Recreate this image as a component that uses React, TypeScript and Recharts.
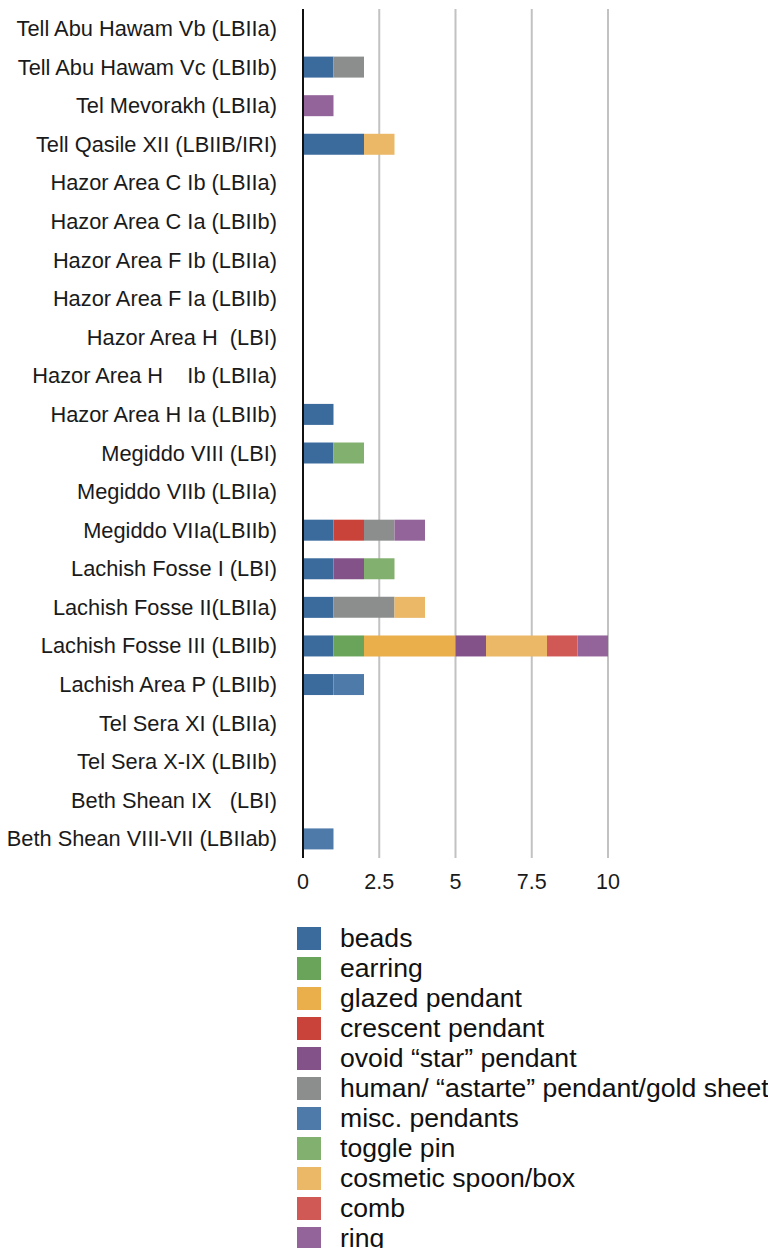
import React from 'react';
import { BarChart, Bar, XAxis, YAxis, CartesianGrid, Legend } from 'recharts';

const categories = [
  'Tell Abu Hawam Vb (LBIIa)',
  'Tell Abu Hawam Vc (LBIIb)',
  'Tel Mevorakh (LBIIa)',
  'Tell Qasile XII (LBIIB/IRI)',
  'Hazor Area C Ib (LBIIa)',
  'Hazor Area C Ia (LBIIb)',
  'Hazor Area F Ib (LBIIa)',
  'Hazor Area F Ia (LBIIb)',
  'Hazor Area H\u00a0\u00a0(LBI)',
  'Hazor Area H\u00a0\u00a0\u00a0\u00a0Ib (LBIIa)',
  'Hazor Area H Ia (LBIIb)',
  'Megiddo VIII (LBI)',
  'Megiddo VIIb (LBIIa)',
  'Megiddo VIIa(LBIIb)',
  'Lachish Fosse I (LBI)',
  'Lachish Fosse II(LBIIa)',
  'Lachish Fosse III (LBIIb)',
  'Lachish Area P (LBIIb)',
  'Tel Sera XI (LBIIa)',
  'Tel Sera X-IX (LBIIb)',
  'Beth Shean IX\u00a0\u00a0\u00a0(LBI)',
  'Beth Shean VIII-VII (LBIIab)',
];

const beads =    [0, 1, 0, 2, 0, 0, 0, 0, 0, 0, 1, 1, 0, 1, 1, 1, 1, 1, 0, 0, 0, 0];
const earring =  [0, 0, 0, 0, 0, 0, 0, 0, 0, 0, 0, 0, 0, 0, 0, 0, 1, 0, 0, 0, 0, 0];
const glazed =   [0, 0, 0, 0, 0, 0, 0, 0, 0, 0, 0, 0, 0, 0, 0, 0, 3, 0, 0, 0, 0, 0];
const crescent = [0, 0, 0, 0, 0, 0, 0, 0, 0, 0, 0, 0, 0, 1, 0, 0, 0, 0, 0, 0, 0, 0];
const ovoid =    [0, 0, 0, 0, 0, 0, 0, 0, 0, 0, 0, 0, 0, 0, 1, 0, 1, 0, 0, 0, 0, 0];
const human =    [0, 1, 0, 0, 0, 0, 0, 0, 0, 0, 0, 0, 0, 1, 0, 2, 0, 0, 0, 0, 0, 0];
const misc =     [0, 0, 0, 0, 0, 0, 0, 0, 0, 0, 0, 0, 0, 0, 0, 0, 0, 1, 0, 0, 0, 1];
const toggle =   [0, 0, 0, 0, 0, 0, 0, 0, 0, 0, 0, 1, 0, 0, 1, 0, 0, 0, 0, 0, 0, 0];
const cosmetic = [0, 0, 0, 1, 0, 0, 0, 0, 0, 0, 0, 0, 0, 0, 0, 1, 2, 0, 0, 0, 0, 0];
const comb =     [0, 0, 0, 0, 0, 0, 0, 0, 0, 0, 0, 0, 0, 0, 0, 0, 1, 0, 0, 0, 0, 0];
const ring =     [0, 0, 1, 0, 0, 0, 0, 0, 0, 0, 0, 0, 0, 1, 0, 0, 1, 0, 0, 0, 0, 0];

const xTicks = [0, 2.5, 5, 7.5, 10];

const series = [
  { key: 'beads', label: 'beads', values: beads, color: '#3b6a9d' },
  { key: 'earring', label: 'earring', values: earring, color: '#6aa35a' },
  { key: 'glazed', label: 'glazed pendant', values: glazed, color: '#eaae4a' },
  { key: 'crescent', label: 'crescent pendant', values: crescent, color: '#c9433b' },
  { key: 'ovoid', label: 'ovoid \u201cstar\u201d pendant', values: ovoid, color: '#835289' },
  { key: 'human', label: 'human/ \u201castarte\u201d pendant/gold sheet', values: human, color: '#8c8e8e' },
  { key: 'misc', label: 'misc. pendants', values: misc, color: '#4e7aa9' },
  { key: 'toggle', label: 'toggle pin', values: toggle, color: '#82b06e' },
  { key: 'cosmetic', label: 'cosmetic spoon/box', values: cosmetic, color: '#ebb867' },
  { key: 'comb', label: 'comb', values: comb, color: '#d05956' },
  { key: 'ring', label: 'ring', values: ring, color: '#93649a' },
];

const data = categories.map((name, i) => {
  const row: Record<string, string | number> = { name };
  series.forEach((s) => {
    row[s.key] = s.values[i];
  });
  return row;
});

const FONT = '"Liberation Sans", Arial, Helvetica, sans-serif';

const LegendContent = () => (
  <div style={{ fontFamily: FONT, fontSize: 26.6, color: '#111' }}>
    {series.map((s) => (
      <div key={s.key} style={{ display: 'flex', alignItems: 'center', height: 30 }}>
        <div style={{ width: 24, height: 23, background: s.color, marginRight: 19, flexShrink: 0 }} />
        <span style={{ whiteSpace: 'nowrap', lineHeight: '30px' }}>{s.label}</span>
      </div>
    ))}
  </div>
);

export default function App() {
  return (
    <div style={{ width: 760, height: 1240, overflow: 'visible' }}>
      <BarChart
        width={760}
        height={1248}
        data={data}
        layout="vertical"
        margin={{ top: 1, right: 160, bottom: 358, left: 0 }}
        barSize={21}
      >
        <CartesianGrid horizontal={false} stroke="#c2c2c2" strokeWidth={2} />
        <XAxis
          type="number"
          domain={[0, 10]}
          ticks={xTicks}
          axisLine={false}
          tickLine={false}
          tickSize={0}
          tickMargin={16}
          height={40}
          interval={0}
          tick={{ fontSize: 21.5, fill: '#1a1a1a', fontFamily: FONT }}
        />
        <YAxis
          type="category"
          dataKey="name"
          width={295}
          axisLine={{ stroke: '#111', strokeWidth: 2 }}
          tickLine={false}
          tickSize={6}
          tickMargin={20}
          interval={0}
          tick={{ fontSize: 21.8, fill: '#1a1a1a', fontFamily: FONT }}
        />
        {series.map((s) => (
          <Bar
            key={s.key}
            dataKey={s.key}
            name={s.label}
            stackId="a"
            fill={s.color}
            isAnimationActive={false}
          />
        ))}
        <Legend
          layout="vertical"
          align="center"
          verticalAlign="middle"
          content={LegendContent}
          wrapperStyle={{ position: 'absolute', left: 289, top: 915, width: 480, height: 330 }}
        />
      </BarChart>
    </div>
  );
}
